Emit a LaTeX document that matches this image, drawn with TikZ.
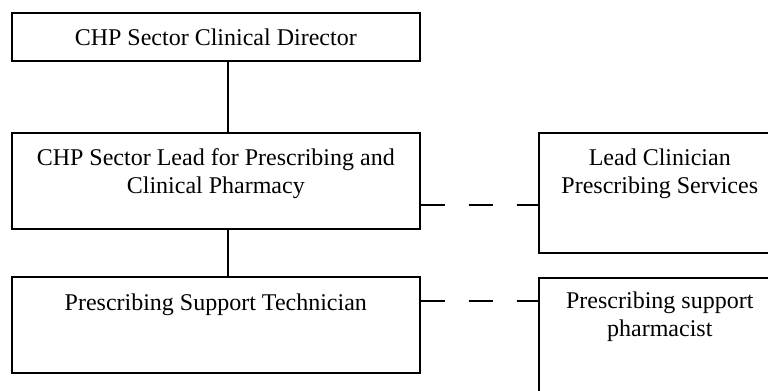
\documentclass[tikz,border=0pt]{standalone}
\usepackage{fontspec}
\setmainfont{Liberation Serif}
\usepackage{tikz}

\begin{document}
\begin{tikzpicture}[x=0.5pt,y=-0.5pt,
  orgbox/.style={draw,line width=0.8pt,inner sep=0pt,anchor=north west,
    align=flush center,font=\fontsize{12}{14}\selectfont},
  link/.style={line width=0.8pt},
  dashlink/.style={line width=0.8pt,dash pattern=on 12pt off 12pt}]
  \useasboundingbox (0,0) rectangle (768,391);
  % line management chain
  \node[orgbox,text width=204pt,text height=16.5pt,text depth=7.5pt] (dir) at (11,12)
    {CHP Sector Clinical Director};
  \node[orgbox,text width=204pt,text height=16.5pt,text depth=31.5pt] (lead) at (11,132)
    {CHP Sector Lead for Prescribing and\\Clinical Pharmacy};
  \node[orgbox,text width=204pt,text height=17pt,text depth=31pt] (tech) at (11,276)
    {Prescribing Support Technician};
  % professional links
  \node[orgbox,text width=121pt,text height=16.5pt,text depth=43.5pt] (clin) at (538,132)
    {Lead Clinician\\Prescribing Services};
  \node[orgbox,text width=121pt,text height=15.5pt,text depth=50pt] (pharm) at (538,277)
    {Prescribing support\\pharmacist};
  \draw[link] ([xshift=6pt]dir.south) -- ([xshift=6pt]lead.north);
  \draw[link] ([xshift=6pt]lead.south) -- ([xshift=6pt]tech.north);
  \draw[dashlink] ([yshift=-12pt]lead.east) -- ([yshift=-12pt]lead.east -| clin.west);
  \draw[dashlink] ([yshift=12pt]tech.east) -- ([yshift=12pt]tech.east -| pharm.west);
\end{tikzpicture}
\end{document}
